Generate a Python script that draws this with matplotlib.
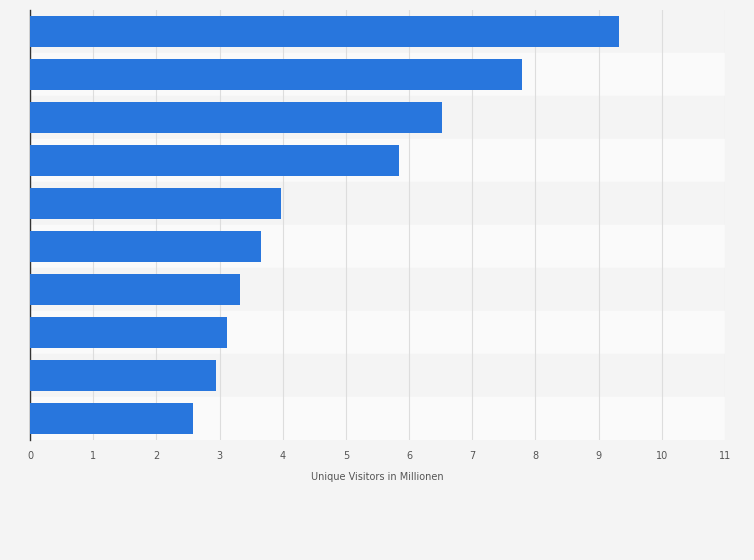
import matplotlib
matplotlib.use("Agg")
from matplotlib import pyplot as plt

# values, top to bottom
visitors = [9.32, 7.79, 6.52, 5.84, 3.97, 3.66, 3.32, 3.12, 2.94, 2.58]
x_ticks = list(range(0, 12))
x_label = 'Unique Visitors in Millionen'

fig = plt.figure(figsize=(7.54, 5.60), dpi=100)
fig.patch.set_facecolor('#f4f4f4')
ax = fig.add_axes([30/754, 1 - 440/560, 695/754, 430/560])
ax.set_facecolor('#f4f4f4')

n = len(visitors)
pos = list(range(n))
# alternating row shading
for i in pos:
    ax.axhspan(i - 0.5, i + 0.5, color='#f4f4f4' if i % 2 == 0 else '#fafafa', zorder=0)

ax.barh(pos, visitors, height=0.7, color='#2876dd', zorder=3)
ax.set_ylim(n - 0.5, -0.5)
ax.set_xlim(0, 11)
ax.set_yticks([])
ax.set_xticks(x_ticks)
ax.set_xticklabels([str(t) for t in x_ticks], fontsize=7, color='#555555')
ax.tick_params(axis='x', length=0, pad=8)
ax.grid(axis='x', color='#dddddd', linewidth=0.8, zorder=1)
for s in ['top', 'right', 'bottom']:
    ax.spines[s].set_visible(False)
ax.spines['left'].set_color('#333333')
ax.spines['left'].set_linewidth(1)
ax.set_xlabel(x_label, fontsize=7, color='#555555', labelpad=8)

fig.savefig('out.png', dpi=100, facecolor=fig.get_facecolor())
